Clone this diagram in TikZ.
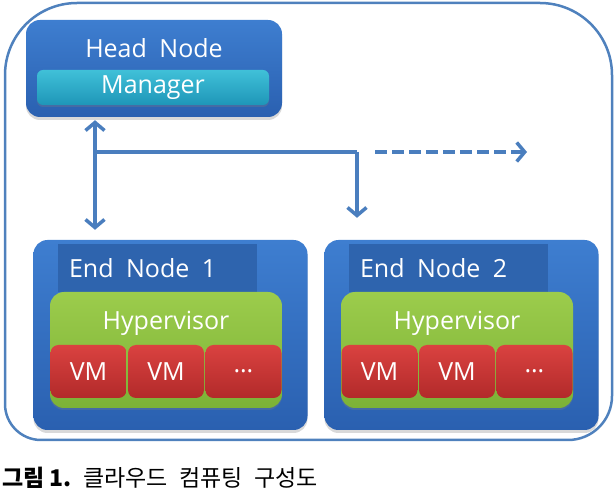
\documentclass[tikz,border=0pt]{standalone}
\usepackage{fontspec}
\setmainfont{Open Sans}
\newfontfamily\krfont{Noto Sans CJK KR}
\usetikzlibrary{arrows.meta,shadows}

\definecolor{linkblue}{RGB}{74,126,190}
\definecolor{frameblue}{RGB}{79,129,189}
\definecolor{nodetop}{RGB}{62,126,208}
\definecolor{nodebot}{RGB}{42,96,176}
\definecolor{tabblue}{RGB}{46,100,174}
\definecolor{mgrtop}{RGB}{64,192,216}
\definecolor{mgrbot}{RGB}{30,150,184}
\definecolor{hyptop}{RGB}{156,204,76}
\definecolor{hypbot}{RGB}{124,178,54}
\definecolor{vmtop}{RGB}{218,66,64}
\definecolor{vmbot}{RGB}{178,42,42}

\tikzset{
  nodebox/.style={rounded corners=14pt, top color=nodetop, bottom color=nodebot,
    drop shadow={shadow xshift=0pt, shadow yshift=-3pt, opacity=.3}},
  tabband/.style={fill=tabblue, inner sep=0pt},
  mgrbar/.style={rounded corners=6pt, top color=mgrtop, bottom color=mgrbot,
    drop shadow={shadow xshift=0pt, shadow yshift=-2pt, opacity=.3}},
  hypbox/.style={rounded corners=14pt, top color=hyptop, bottom color=hypbot,
    drop shadow={shadow xshift=0pt, shadow yshift=-2pt, opacity=.3}},
  vmbox/.style={rounded corners=8pt, top color=vmtop, bottom color=vmbot,
    minimum width=76pt, minimum height=53pt},
  lbl/.style={text=white, inner sep=0pt, font=\fontsize{25}{30}\selectfont},
  link/.style={draw=linkblue, line width=3.5pt},
}

\begin{document}
\begin{tikzpicture}[x=1pt,y=-1pt,>={Straight Barb[length=8pt,width=19pt]}]
\useasboundingbox (0,0) rectangle (614,489);

% outer frame
\draw[frameblue, line width=2.5pt]
  (5,404) -- (5,75) arc[start angle=180, end angle=270, radius=72]
  -- (540,3) arc[start angle=270, end angle=360, radius=72]
  -- (612,396) arc[start angle=0, end angle=90, radius=44]
  -- (41,440) arc[start angle=90, end angle=180, radius=36] -- cycle;

% head node
\node[nodebox, minimum width=256pt, minimum height=97pt] (head) at (154,68.5) {};
\node[lbl] (headtxt) at (154,48) {Head\enspace Node};
\node[mgrbar, lbl, minimum width=232pt, minimum height=35pt] (mgr) at (153,87.5) {Manager};

% end nodes
\foreach \n/\cx in {1/170.5,2/461.5}{
  \node[nodebox, minimum width=274pt, minimum height=190pt] (end\n) at (\cx,335) {};
  \node[tabband, minimum width=199pt, minimum height=48pt] (tab\n) at (\cx-13,268) {};
  \node[lbl, anchor=west] (endtxt\n) at ([xshift=11pt]tab\n.west) {End\enspace Node\enspace\n};
  \node[hypbox, minimum width=232pt, minimum height=116pt] (hyp\n) at (\cx-4.5,350) {};
  \node[lbl] (hyptxt\n) at (\cx-4.5,323) {Hypervisor};
  \foreach \k/\t in {1/VM,2/VM,3/\ldots}
    \node[vmbox, lbl] (vm\n-\k) at (\cx-4.5+\k*77.5-155,371.5) {\t};
}

% links
\coordinate (jl) at (95,152);
\coordinate (jr) at (357,152);
\coordinate (dl) at (375,152);
\coordinate (dr) at (527,152);
\draw[link,<->,shorten <=3pt,shorten >=10pt] (head.south -| jl) -- (end1.north -| jl);
\draw[link] (jl) -- (jr);
\draw[link,->,shorten >=22pt] (jr) -- (end2.north -| jr);
\draw[link,->,dash pattern=on 12pt off 5pt] (dl) -- (dr);

% caption
\node[anchor=west, inner sep=0pt, font=\krfont\fontsize{23}{26}\selectfont] (cap)
  at (2,478) {\textbf{그림 1.}\enspace 클라우드\enspace 컴퓨팅\enspace 구성도};
\end{tikzpicture}
\end{document}
